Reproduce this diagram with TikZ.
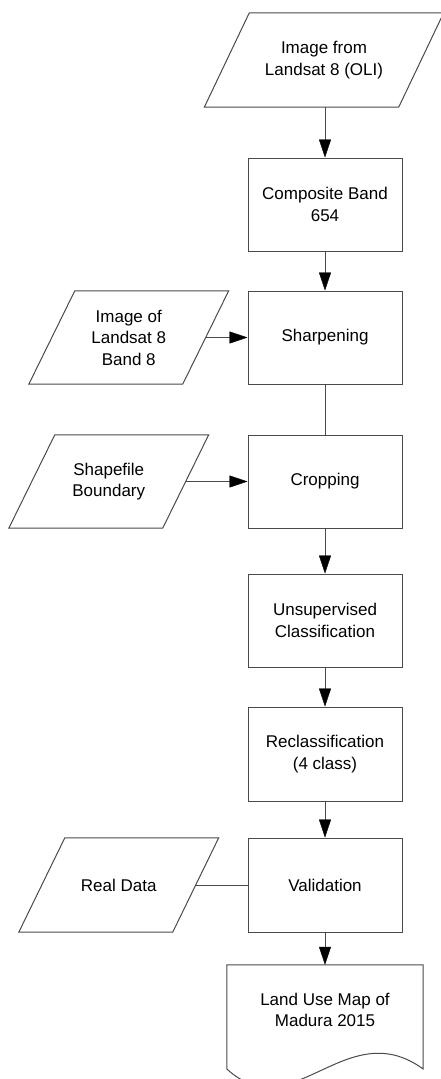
\documentclass[tikz,border=0pt]{standalone}
\usepackage{fontspec}
\setmainfont{Liberation Sans}
\usetikzlibrary{arrows.meta,calc}
\definecolor{linegray}{HTML}{4A4A4A}
\begin{document}
\begin{tikzpicture}[x=1pt,y=-1pt,
  every node/.style={font=\fontsize{17}{21.5}\selectfont, align=center, text=black},
  procbox/.style={draw=linegray, line width=1pt, minimum width=154pt, minimum height=93pt, inner sep=0pt},
  paraholder/.style={minimum width=153.5pt, minimum height=93pt, inner sep=0pt},
  docholder/.style={minimum width=196pt, minimum height=104pt, inner sep=0pt},
  outline/.style={draw=linegray, line width=1pt, line join=miter},
  flow/.style={draw=linegray, line width=1pt, -{Triangle[length=18pt,width=12pt,color=black,fill=black,line width=0.4pt]}},
  plainlink/.style={draw=linegray, line width=1pt}
]
\useasboundingbox (0,0) rectangle (441,1079);
% parallelogram drawing helper
\newcommand\drawpara[2]{%
  \draw[outline] ($(#1.north west)+(#2/2,0)$) -- ($(#1.north east)+(#2/2,0)$)
    -- ($(#1.south east)+(-#2/2,0)$) -- ($(#1.south west)+(-#2/2,0)$) -- cycle;}

% input nodes
\node[paraholder, minimum width=194pt, minimum height=94pt] (src) at (324,60) {Image from\\Landsat 8 (OLI)};
\drawpara{src}{45}
\node[paraholder] (pan) at (128.75,337.5) {Image of\\Landsat 8\\Band 8};
\drawpara{pan}{46}
\node[paraholder] (shp) at (108.75,481.5) {Shapefile\\Boundary};
\drawpara{shp}{46}
\node[paraholder, minimum height=94pt] (real) at (118.75,885) {Real Data};
\drawpara{real}{46}

% process boxes
\node[procbox] (comp) at (325,204.5) {Composite Band\\654};
\node[procbox] (sharp) at (325,337.5) {Sharpening};
\node[procbox] (crop) at (325,481.5) {Cropping};
\node[procbox] (unsup) at (325,620.5) {Unsupervised\\Classification};
\node[procbox, minimum height=94pt] (recl) at (325,754) {Reclassification\\(4 class)};
\node[procbox, minimum height=94pt] (valid) at (325,885) {Validation};

% document
\node[docholder] (map) at (325,1017) {};
\node at (325,1010) {Land Use Map of\\Madura 2015};
\coordinate (mapbl) at ($(map.west)+(0,52)$);
\coordinate (mapbr) at ($(map.east)+(0,52)$);
\draw[outline] (mapbl) -- (map.north west) -- (map.north east) -- (mapbr)
  .. controls ($(mapbr)+(-77,-56)$) and ($(mapbl)+(66,60)$) .. (mapbl);

% connectors
\draw[flow] (src.south -| comp.north) -- (comp.north);
\draw[flow] (comp.south) -- (sharp.north);
\draw[flow] (pan.east) -- (pan.east -| sharp.west);
\draw[plainlink] (sharp.south) -- (crop.north);
\draw[flow] (shp.east) -- (shp.east -| crop.west);
\draw[flow] (crop.south) -- (unsup.north);
\draw[flow] (unsup.south) -- (recl.north);
\draw[flow] (recl.south) -- (valid.north);
\draw[plainlink] (real.east) -- (real.east -| valid.west);
\draw[flow] (valid.south) -- (map.north);
\end{tikzpicture}
\end{document}
